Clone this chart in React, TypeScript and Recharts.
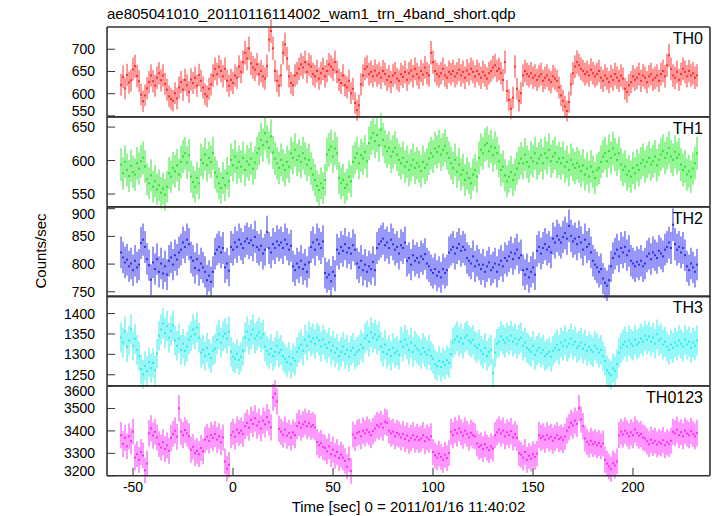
import React from 'react';
import { ComposedChart, Scatter, ErrorBar, XAxis, YAxis } from 'recharts';

// 1 s bins, first bin centred at t = -56 s
const T_START = -56;

const th0 = [
  620, 638, 612, 642, 625, 630, 655, 662, 640, 628,
  598, 583, 596, 612, 626, 641, 628, 618, 636, 646,
  630, 641, 622, 609, 594, 588, 584, 601, 589, 614,
  626, 609, 631, 619, 604, 632, 624, 636, 618, 642,
  629, 614, 599, 594, 611, 621, 641, 656, 644, 661,
  651, 639, 656, 629, 618, 631, 624, 641, 636, 661,
  649, 671, 692, 679, 702, 668, 659, 654, 666, 644,
  651, 639, 634, 662, 722, 741, 702, 651, 629, 618,
  641, 692, 711, 679, 639, 624, 619, 641, 646, 656,
  666, 659, 671, 649, 666, 661, 644, 639, 651, 634,
  646, 656, 639, 651, 666, 661, 654, 671, 649, 631,
  624, 641, 619, 614, 629, 601, 611, 579, 563, 574,
  621, 641, 656, 661, 644, 649, 639, 652, 641, 646,
  636, 651, 644, 631, 639, 626, 641, 646, 634, 629,
  644, 638, 649, 631, 646, 652, 639, 656, 644, 636,
  651, 643, 659, 646, 641, 692, 671, 651, 644, 639,
  646, 656, 641, 636, 649, 644, 651, 639, 646, 654,
  641, 649, 636, 652, 644, 656, 649, 639, 651, 644,
  636, 649, 641, 634, 646, 651, 659, 664, 651, 656,
  646, 631, 671, 606, 586, 566, 591, 661, 611, 584,
  601, 641, 651, 644, 639, 646, 636, 641, 631, 639,
  644, 629, 636, 641, 631, 626, 639, 634, 629, 614,
  596, 584, 571, 561, 581, 621, 646, 661, 671, 664,
  656, 651, 644, 649, 641, 654, 646, 639, 644, 651,
  636, 629, 641, 634, 626, 639, 631, 644, 636, 629,
  641, 634, 611, 604, 619, 626, 639, 631, 636, 644,
  629, 641, 636, 626, 639, 644, 631, 636, 641, 629,
  644, 651, 639, 664, 686, 656, 641, 636, 649, 631,
  644, 656, 649, 639, 651, 641, 646, 636, 641,
];

const th1 = [
  594, 581, 598, 586, 577, 592, 583, 579, 596, 588,
  599, 604, 591, 572, 566, 578, 561, 569, 557, 563,
  552, 558, 549, 561, 581, 576, 589, 584, 593, 579,
  598, 606, 611, 597, 608, 576, 568, 561, 574, 566,
  601, 596, 609, 593, 604, 598, 611, 582, 576, 566,
  559, 574, 563, 581, 569, 601, 593, 606, 589, 598,
  591, 604, 586, 599, 594, 603, 588, 597, 611, 618,
  631, 623, 641, 628, 619, 636, 612, 603, 596, 589,
  601, 593, 586, 598, 591, 611, 604, 616, 601, 607,
  598, 611, 603, 594, 601, 588, 579, 571, 562, 556,
  566, 559, 571, 609, 616, 621, 606, 618, 611, 574,
  566, 571, 559, 564, 576, 569, 598, 604, 611, 596,
  608, 603, 613, 599, 626, 634, 641, 629, 638, 623,
  646, 631, 621, 614, 619, 606, 613, 619, 609, 601,
  596, 604, 591, 598, 586, 593, 601, 589, 596, 591,
  584, 598, 589, 594, 603, 611, 606, 618, 613, 621,
  609, 616, 622, 611, 604, 596, 589, 601, 583, 594,
  579, 586, 571, 581, 574, 566, 579, 586, 576, 604,
  616, 611, 623, 626, 614, 621, 608, 619, 611, 599,
  586, 591, 578, 569, 576, 583, 571, 579, 588, 596,
  603, 596, 609, 598, 591, 604, 599, 611, 596, 603,
  608, 596, 611, 604, 616, 599, 606, 611, 598, 603,
  596, 604, 591, 598, 586, 601, 594, 589, 596, 591,
  584, 593, 579, 588, 576, 591, 583, 574, 586, 589,
  598, 606, 611, 599, 614, 604, 618, 609, 601, 611,
  594, 586, 591, 579, 584, 576, 589, 581, 593, 586,
  596, 601, 591, 598, 604, 594, 599, 606, 593, 601,
  609, 614, 604, 611, 619, 606, 601, 613, 604, 609,
  594, 586, 591, 579, 584, 576, 588, 596, 611,
];

const th2 = [
  821, 812, 803, 808, 796, 801, 789, 806, 794, 799,
  838, 844, 831, 809, 798, 772, 803, 791, 809, 786,
  801, 783, 796, 781, 806, 812, 799, 816, 808, 821,
  826, 839, 831, 844, 836, 812, 806, 793, 809, 789,
  801, 794, 786, 771, 779, 768, 786, 819, 826, 831,
  821, 829, 794, 801, 788, 831, 826, 839, 831, 844,
  836, 829, 841, 846, 838, 843, 834, 849, 831, 826,
  833, 819, 826, 858, 829, 821, 836, 829, 841, 834,
  839, 829, 844, 836, 826, 833, 796, 789, 801, 794,
  806, 791, 799, 786, 803, 831, 839, 826, 844, 836,
  829, 841, 784, 776, 781, 769, 786, 779, 826, 819,
  831, 824, 836, 821, 829, 819, 834, 826, 801, 794,
  806, 789, 799, 786, 796, 791, 804, 789, 829, 836,
  841, 846, 834, 839, 829, 844, 836, 826, 831, 819,
  834, 829, 839, 806, 811, 799, 816, 806, 811, 803,
  814, 809, 818, 801, 796, 789, 784, 791, 779, 786,
  776, 791, 784, 789, 821, 826, 831, 819, 829, 836,
  824, 831, 826, 811, 806, 801, 814, 796, 806, 799,
  791, 799, 786, 796, 803, 789, 794, 801, 786, 799,
  806, 796, 811, 806, 814, 821, 809, 819, 826, 811,
  816, 789, 781, 791, 776, 786, 794, 781, 824, 831,
  819, 829, 836, 826, 831, 821, 846, 839, 851, 844,
  839, 849, 856, 846, 869, 851, 841, 846, 836, 849,
  839, 826, 844, 831, 836, 821, 806, 799, 794, 786,
  791, 774, 766, 761, 771, 796, 811, 819, 826, 814,
  829, 821, 831, 816, 824, 806, 801, 796, 804, 799,
  806, 796, 801, 814, 819, 809, 821, 816, 811, 824,
  819, 814, 826, 831, 839, 829, 871, 836, 826, 831,
  821, 829, 816, 796, 789, 801, 794, 786, 799,
];

const th3 = [
  1341, 1329, 1356, 1318, 1334, 1362, 1321, 1338, 1311, 1296,
  1264, 1251, 1272, 1259, 1281, 1266, 1279, 1261, 1302, 1346,
  1361, 1376, 1352, 1369, 1341, 1358, 1371, 1334, 1321, 1339,
  1311, 1326, 1308, 1319, 1336, 1344, 1361, 1349, 1366, 1341,
  1304, 1311, 1296, 1316, 1301, 1291, 1309, 1314, 1336, 1349,
  1329, 1344, 1351, 1339, 1356, 1306, 1294, 1289, 1301, 1286,
  1294, 1309, 1341, 1356, 1336, 1349, 1361, 1339, 1346, 1354,
  1341, 1349, 1319, 1309, 1301, 1314, 1296, 1306, 1321, 1304,
  1311, 1296, 1289, 1281, 1294, 1276, 1291, 1284, 1306, 1316,
  1324, 1309, 1336, 1321, 1344, 1331, 1339, 1326, 1341, 1334,
  1319, 1336, 1324, 1316, 1329, 1309, 1321, 1304, 1314, 1296,
  1306, 1319, 1301, 1311, 1294, 1309, 1316, 1299, 1306, 1311,
  1324, 1316, 1339, 1346, 1331, 1354, 1341, 1349, 1336, 1344,
  1319, 1306, 1324, 1301, 1311, 1296, 1316, 1304, 1309, 1299,
  1331, 1319, 1336, 1324, 1311, 1329, 1306, 1321, 1314, 1309,
  1301, 1316, 1306, 1299, 1311, 1296, 1289, 1276, 1271, 1284,
  1269, 1281, 1274, 1286, 1279, 1301, 1329, 1336, 1344, 1331,
  1339, 1326, 1341, 1346, 1334, 1329, 1336, 1321, 1316, 1324,
  1309, 1301, 1316, 1296, 1306, 1311, 1254, 1304, 1326, 1331,
  1344, 1336, 1329, 1341, 1334, 1346, 1331, 1339, 1326, 1336,
  1341, 1321, 1329, 1316, 1311, 1306, 1321, 1299, 1309, 1316,
  1304, 1311, 1296, 1301, 1306, 1294, 1309, 1316, 1324, 1311,
  1329, 1321, 1334, 1319, 1326, 1339, 1324, 1331, 1316, 1321,
  1329, 1314, 1324, 1309, 1319, 1311, 1306, 1321, 1314, 1304,
  1311, 1296, 1284, 1261, 1254, 1249, 1266, 1259, 1276, 1304,
  1316, 1324, 1331, 1319, 1334, 1326, 1321, 1336, 1324, 1329,
  1339, 1331, 1346, 1336, 1344, 1331, 1341, 1326, 1349, 1334,
  1339, 1324, 1331, 1319, 1311, 1324, 1316, 1329, 1321, 1334,
  1326, 1319, 1336, 1324, 1331, 1316, 1329, 1321, 1334,
];

const th0123 = [
  3381, 3342, 3369, 3331, 3376, 3354, 3396, 3281, 3296, 3271,
  3306, 3291, 3224, 3254, 3389, 3411, 3379, 3396, 3371, 3341,
  3326, 3349, 3319, 3336, 3311, 3369, 3386, 3401, 3374, 3501,
  3396, 3381, 3404, 3389, 3376, 3316, 3329, 3301, 3311, 3296,
  3324, 3309, 3361, 3374, 3356, 3381, 3369, 3386, 3361, 3376,
  3349, 3371, 3264, 3231, 3249, 3381, 3396, 3374, 3406, 3391,
  3401, 3386, 3421, 3436, 3414, 3449, 3431, 3456, 3424, 3441,
  3411, 3446, 3429, 3461, 3439, 3416, 3549, 3566, 3531, 3409,
  3396, 3384, 3406, 3379, 3391, 3371, 3394, 3381, 3421, 3436,
  3414, 3429, 3441, 3421, 3434, 3419, 3426, 3416, 3351, 3336,
  3346, 3329, 3324, 3309, 3331, 3296, 3316, 3289, 3306, 3279,
  3294, 3281, 3266, 3241, 3274, 3221, 3384, 3369, 3391, 3396,
  3376, 3401, 3389, 3406, 3394, 3381, 3399, 3411, 3426, 3419,
  3431, 3414, 3441, 3436, 3401, 3389, 3396, 3376, 3391, 3384,
  3371, 3386, 3364, 3379, 3356, 3369, 3381, 3361, 3374, 3359,
  3366, 3381, 3354, 3371, 3361, 3376, 3306, 3291, 3281, 3299,
  3284, 3271, 3294, 3279, 3301, 3396, 3381, 3404, 3389, 3411,
  3394, 3379, 3401, 3386, 3371, 3391, 3381, 3376, 3344, 3329,
  3336, 3319, 3341, 3326, 3314, 3331, 3321, 3381, 3394, 3406,
  3389, 3401, 3376, 3394, 3381, 3399, 3371, 3386, 3369, 3301,
  3294, 3281, 3306, 3271, 3289, 3276, 3296, 3284, 3299, 3381,
  3369, 3376, 3361, 3381, 3366, 3374, 3356, 3369, 3381, 3364,
  3371, 3359, 3374, 3401, 3416, 3436, 3424, 3446, 3431, 3501,
  3451, 3421, 3366, 3351, 3339, 3356, 3341, 3349, 3336, 3346,
  3331, 3344, 3271, 3254, 3241, 3229, 3256, 3246, 3264, 3381,
  3396, 3384, 3401, 3389, 3376, 3394, 3381, 3406, 3391, 3379,
  3386, 3371, 3366, 3354, 3341, 3361, 3346, 3356, 3339, 3351,
  3344, 3359, 3336, 3349, 3341, 3356, 3396, 3389, 3406, 3381,
  3394, 3376, 3401, 3389, 3381, 3399, 3386, 3376, 3391,
];

const X_DOMAIN = [-63, 238.5];
const X_TICKS = [-50, 0, 50, 100, 150, 200];

const range = (a: number, b: number, step: number) => {
  const out: number[] = [];
  for (let v = a; v <= b + 1e-9; v += step) out.push(v);
  return out;
};

const X_MINOR = range(-60, 230, 10);

const PLOT_LEFT = 107;
const PLOT_RIGHT = 710;
const PANEL_TOP = 27;
const PANEL_H = 89.8;
const FRAME = '#333';
// axes need a non-zero size to be drawn at all
const THIN = 0.01;

const panels = [
  { name: 'TH0', values: th0, color: '#ff3030', domain: [548, 750], ticks: [550, 600, 650, 700], minor: 10 },
  { name: 'TH1', values: th1, color: '#2ee82e', domain: [531, 665], ticks: [550, 600, 650], minor: 10 },
  { name: 'TH2', values: th2, color: '#3030f0', domain: [741, 903], ticks: [750, 800, 850, 900], minor: 10 },
  { name: 'TH3', values: th3, color: '#30eeee', domain: [1223, 1443], ticks: [1250, 1300, 1350, 1400], minor: 10 },
  { name: 'TH0123', values: th0123, color: '#ff30ff', domain: [3200, 3600], ticks: [3200, 3300, 3400, 3500, 3600], minor: 20 },
];

// y tick label; labels sitting right on a panel edge are nudged inward so
// they do not collide with the neighbouring panel's label
function YTick(props: any) {
  const { x, y, payload, domain } = props;
  const span = domain[1] - domain[0];
  let dy = 0;
  if (payload.value - domain[0] < span * 0.03) dy = -5;
  if (domain[1] - payload.value < span * 0.03) dy = 5;
  return (
    <text x={x} y={y + dy} textAnchor="end" dominantBaseline="central" fontSize={14} fill="#000">
      {payload.value}
    </text>
  );
}

function Panel({ p, index }: { p: (typeof panels)[number]; index: number }) {
  const last = index === panels.length - 1;
  const pad = 10;
  const bottomPad = last ? 40 : pad;
  const rows = p.values.map((v, i) => ({ t: T_START + i, v, ey: Math.sqrt(v), ex: 0.5 }));
  const yMinor = range(Math.ceil(p.domain[0] / p.minor) * p.minor, p.domain[1], p.minor);
  const top = PANEL_TOP + index * PANEL_H;
  const axisLine = { stroke: FRAME, strokeWidth: 1.6 };
  const tickLine = { stroke: FRAME, strokeWidth: 1 };

  return (
    <div style={{ position: 'absolute', left: 0, top: top - pad }}>
      <ComposedChart
        width={717}
        height={PANEL_H + pad + bottomPad}
        data={rows}
        margin={{ top: pad, right: 717 - PLOT_RIGHT, bottom: bottomPad, left: PLOT_LEFT }}
      >
        <XAxis xAxisId="x" dataKey="t" type="number" domain={X_DOMAIN} allowDataOverflow ticks={X_TICKS}
          interval={0} height={THIN} tickSize={-8} tickMargin={14} axisLine={axisLine} tickLine={tickLine}
          tick={last ? { fill: '#000', fontSize: 14 } : false} />
        <XAxis xAxisId="xm" type="number" domain={X_DOMAIN} allowDataOverflow ticks={X_MINOR}
          interval={0} height={THIN} tickSize={-4} axisLine={false} tickLine={tickLine} tick={false} />
        <XAxis xAxisId="xt" orientation="top" type="number" domain={X_DOMAIN} allowDataOverflow ticks={X_TICKS}
          interval={0} height={THIN} tickSize={-8} axisLine={axisLine} tickLine={tickLine} tick={false} />
        <XAxis xAxisId="xtm" orientation="top" type="number" domain={X_DOMAIN} allowDataOverflow ticks={X_MINOR}
          interval={0} height={THIN} tickSize={-4} axisLine={false} tickLine={tickLine} tick={false} />
        <YAxis yAxisId="y" type="number" domain={p.domain} allowDataOverflow ticks={p.ticks} interval={0}
          width={THIN} tickSize={-8} tickMargin={20} axisLine={axisLine} tickLine={tickLine}
          tick={<YTick domain={p.domain} />} />
        <YAxis yAxisId="ym" type="number" domain={p.domain} allowDataOverflow ticks={yMinor} interval={0}
          width={THIN} tickSize={-4} axisLine={false} tickLine={tickLine} tick={false} />
        <YAxis yAxisId="yr" orientation="right" type="number" domain={p.domain} allowDataOverflow ticks={p.ticks}
          interval={0} width={THIN} tickSize={-8} axisLine={axisLine} tickLine={tickLine} tick={false} />
        <YAxis yAxisId="yrm" orientation="right" type="number" domain={p.domain} allowDataOverflow ticks={yMinor}
          interval={0} width={THIN} tickSize={-4} axisLine={false} tickLine={tickLine} tick={false} />
        <Scatter xAxisId="x" yAxisId="y" dataKey="v" isAnimationActive={false} shape={() => <g />}>
          <ErrorBar dataKey="ey" direction="y" width={0} stroke={p.color} strokeOpacity={0.9} strokeWidth={1.1} isAnimationActive={false} />
          <ErrorBar dataKey="ex" direction="x" width={0} stroke={p.color} strokeWidth={2} isAnimationActive={false} />
        </Scatter>
      </ComposedChart>
      <div style={{ position: 'absolute', right: 717 - 703, top: pad + 3, fontSize: 16, lineHeight: '18px' }}>
        {p.name}
      </div>
    </div>
  );
}

export default function App() {
  return (
    <div style={{ position: 'absolute', left: 0, top: 0, width: 717, height: 516, background: '#fff',
      fontFamily: '"Liberation Sans", Arial, Helvetica, sans-serif', color: '#000' }}>
      <div style={{ position: 'absolute', left: PLOT_LEFT, top: 5, fontSize: 15 }}>
        ae805041010_20110116114002_wam1_trn_4band_short.qdp
      </div>
      {panels.map((p, i) => (
        <Panel key={p.name} p={p} index={i} />
      ))}
      <div style={{ position: 'absolute', left: 40, top: 251, fontSize: 15, whiteSpace: 'nowrap',
        transform: 'translate(-50%, -50%) rotate(-90deg)' }}>
        Counts/sec
      </div>
      <div style={{ position: 'absolute', left: (PLOT_LEFT + PLOT_RIGHT) / 2, top: 498, fontSize: 15,
        whiteSpace: 'nowrap', transform: 'translateX(-50%)' }}>
        Time [sec] 0 = 2011/01/16 11:40:02
      </div>
    </div>
  );
}
